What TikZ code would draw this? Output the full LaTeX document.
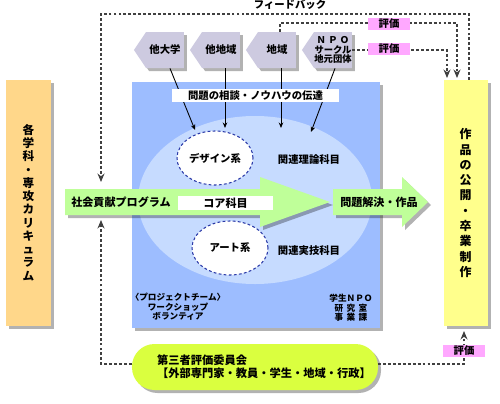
\documentclass[tikz,border=0pt]{standalone}
\usepackage{fontspec}
\setmainfont{Noto Sans CJK JP}
\usetikzlibrary{arrows.meta}
\usetikzlibrary{calc}
\usetikzlibrary{shapes.geometric}
\usetikzlibrary{shapes.symbols}
\usetikzlibrary{shadows}
\usetikzlibrary{positioning}
\definecolor{barorange}{HTML}{FFD78A}
\definecolor{baryellow}{HTML}{FFFF8C}
\definecolor{hubblue}{HTML}{9DBDFF}
\definecolor{fieldblue}{HTML}{C6DBFF}
\definecolor{arrowgreen}{HTML}{BFFF99}
\definecolor{pilllime}{HTML}{DAFF3F}
\definecolor{hexgrey}{HTML}{CDCAE0}
\definecolor{evalpink}{HTML}{FFA8FF}
\definecolor{ringblue}{HTML}{2B3AA8}
\newcommand{\fnttn}{\fontsize{4.9}{5.4}\selectfont\bfseries}
\newcommand{\fntsm}{\fontsize{5.3}{5.5}\selectfont\bfseries}
\newcommand{\fntmd}{\fontsize{5.9}{7}\selectfont\bfseries}
\newcommand{\fntlg}{\fontsize{6.3}{7.5}\selectfont\bfseries}
\newcommand{\fntpill}{\fontsize{6.4}{7.4}\selectfont\bfseries}
\tikzset{shade box/.style={drop shadow={shadow xshift=0.6mm,shadow yshift=-0.6mm,opacity=0.3,fill=black}}}
\tikzset{plain/.style={inner sep=0pt,font=\fntmd}}
\tikzset{bar/.style={shade box,minimum width=8.8mm,minimum height=49.2mm,inner sep=0pt,align=center}}
\tikzset{hubbox/.style={shade box,fill=hubblue,minimum width=49.6mm,minimum height=49.2mm,inner sep=0pt}}
\tikzset{hexbox/.style={shape=signal,signal to=west,signal pointer angle=112,fill=hexgrey,shade box,minimum width=10mm,minimum height=7.2mm,inner sep=0pt,font=\fntmd,align=center}}
\tikzset{ring/.style={ellipse,draw=ringblue,line width=0.6pt,dash pattern=on 1.6pt off 1.3pt,fill=white,minimum width=15.2mm,minimum height=10.8mm,inner sep=0pt,font=\fntmd}}
\tikzset{whitebox/.style={fill=white,inner sep=0pt}}
\tikzset{evalbox/.style={fill=evalpink,minimum width=8.4mm,minimum height=2.4mm,inner sep=0pt,font=\fntmd}}
\tikzset{pillbox/.style={shade box,fill=pilllime,rounded corners=4.5mm,minimum width=49.2mm,minimum height=9.2mm,inner sep=0pt}}
\tikzset{arrow/.style={-{Stealth[length=1.1mm,width=0.9mm]},line width=0.5pt}}
\tikzset{fback/.style={-{Stealth[length=1.7mm,width=1.4mm]},dash pattern=on 1.6pt off 1.2pt,line width=0.6pt,draw=black!75}}

\begin{document}
\begin{tikzpicture}[x=0.2mm,y=-0.2mm]
        \useasboundingbox (0,0) rectangle (500,403);

        % programme block
        \node[hubbox] (hub) at (256,205) {};
        \fill[fieldblue] (255,200) ellipse [x radius=23.4mm,y radius=16.8mm];

        \node[hexbox] (uni) at (165,50) {他大学};
        \node[hexbox] (other) at (221,50) {他地域};
        \node[hexbox] (area) at (277,50) {地域};
        \node[hexbox,font=\fntsm] (npo) at (333,50)
            {Ｎ\hspace{.25em}Ｐ\hspace{.25em}Ｏ\\サークル\\地元団体};

        \coordinate (uniend) at (195,130);
        \coordinate (otherend) at (225,128);
        \coordinate (areaend) at (281,128);
        \coordinate (npoend) at (311,132);
        \draw[arrow] ($(uni.south)+(5,0)$) -- (uniend);
        \draw[arrow] ($(other.south)+(4,0)$) -- (otherend);
        \draw[arrow] ($(area.south)+(4,0)$) -- (areaend);
        \draw[arrow] ($(npo.south)+(2,0)$) -- (npoend);
        \node[whitebox,minimum width=33.4mm,minimum height=2.6mm,font=\fntmd] (advice)
            at (255.5,95.5) {問題の相談・ノウハウの伝達};

        \node[ring] (design) at (215,158) {デザイン系};
        \node[ring] (art) at (230,248) {アート系};
        \node[plain] (theory) at (309,160) {関連理論科目};
        \node[plain] (skill) at (309,251) {関連実技科目};
        \node[plain,font=\fnttn,align=center] (team) at (178,307)
            {〈プロジェクトチーム〉\\ワークショップ\\ボランティア};
        \node[plain,font=\fnttn,align=center] (club) at (351,308)
            {学生ＮＰＯ\\研\hspace{.4em}究\hspace{.4em}室\\事\hspace{.4em}業\hspace{.4em}課};

        % big arrows
        \fill[arrowgreen,shade box] (65,189) -- (260,189) -- (260,177) -- (330,202)
            -- (260,227) -- (260,215) -- (65,215) -- cycle;
        \fill[arrowgreen,shade box] (333,189) -- (402,189) -- (402,177) -- (428,202)
            -- (402,227) -- (402,215) -- (333,215) -- cycle;
        \node[plain,font=\fntlg] (prog) at (121,202) {社会貢献プログラム};
        \node[whitebox,font=\fntlg,minimum width=19mm,minimum height=2.8mm] (coretag)
            at (225.5,203) {コア科目};
        \node[plain,font=\fntlg] (solve) at (379,202) {問題解決・作品};

        % side bars
        \node[bar,fill=barorange,font=\fontsize{6.6}{7.55}\selectfont\bfseries] (dept)
            at (28.5,202.5) {各\\学\\科\\・\\専\\攻\\カ\\リ\\キ\\ュ\\ラ\\ム};
        \node[bar,fill=baryellow,font=\fontsize{6.8}{8.7}\selectfont\bfseries] (pub)
            at (465.5,203) {作\\品\\の\\公\\開\\・\\卒\\業\\制\\作};

        \node[pillbox] (jury) at (255,367) {};
        \node[plain,font=\fntpill,align=left] (jurytext) at (264,367)
            {第三者評価委員会\\【外部専門家・教員・学生・地域・行政】};

        % feedback and evaluation
        \coordinate (fbtop) at (101,14);
        \coordinate (fbend) at (101,182);
        \coordinate (ev1end) at (457,78);
        \coordinate (ev2end) at (447,78);
        \coordinate (progend) at (101,220);
        \coordinate (pubend) at (464,331);
        \draw[fback] ($(pub.north)+(3.5,0)$) |- (fbtop) -- (fbend);
        \draw[fback] ($(area.north)+(3,0)$) |- ($(ev1end)+(0,-55)$) -- (ev1end);
        \draw[fback] (npo.east) -| (ev2end);
        \draw[fback] ($(jury.west)+(0,-3)$) -| (progend);
        \draw[fback] ($(jury.east)+(0,-3)$) -| (pubend);

        \node[plain] (fbtext) at (290,5) {フィードバック};
        \node[evalbox] (ev1) at (389,24) {評価};
        \node[evalbox] (ev2) at (389,48.5) {評価};
        \node[evalbox] (ev3) at (464,351) {評価};
\end{tikzpicture}
\end{document}
